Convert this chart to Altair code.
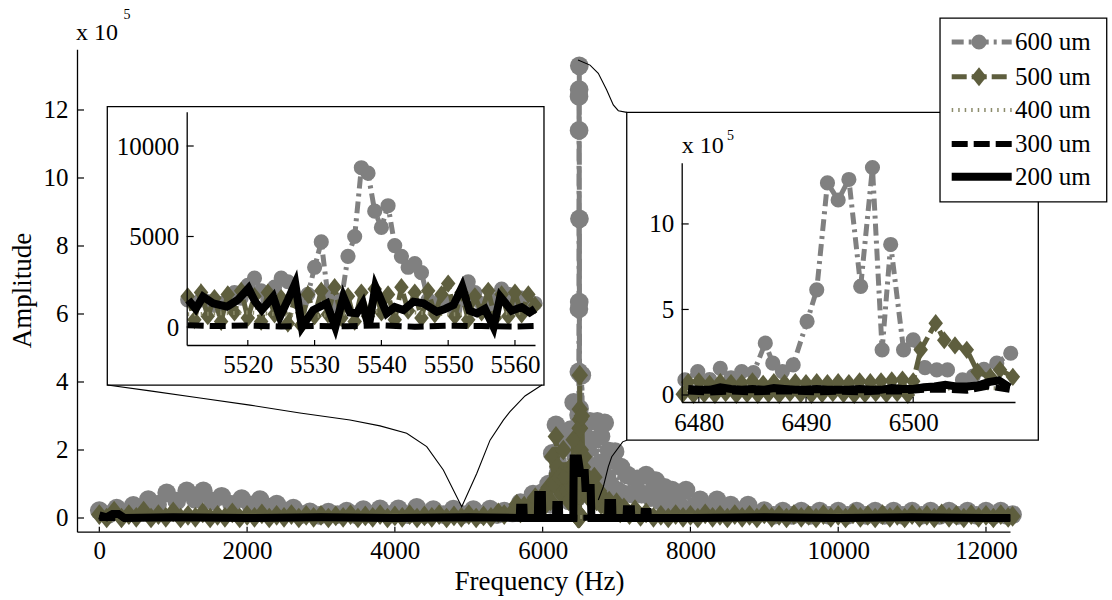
import altair as alt
import pandas as pd

# ---------------------------------------------------------------- data
SERIES = ["600 um", "500 um", "400 um", "300 um", "200 um"]

MAIN_F_600 = [0, 235, 460, 663, 912, 1183, 1408, 1656, 1927, 2175, 2401, 2626, 2850, 3100, 3348,
              3573, 3799, 4047, 4296, 4520, 4791, 5062, 5288, 5480, 5700, 5870, 5990, 6080, 6130,
              6180, 6230, 6280, 6330, 6380, 6420, 6450, 6530, 6560, 6600, 6640, 6690, 6740, 6790,
              6840, 6900, 6980, 7060, 7150, 7280, 7400, 7530, 7650, 7752, 7940, 8130, 8360, 8545,
              8780, 9000, 9250, 9500, 9750, 10000, 10250, 10500, 10750, 11000, 11250, 11500,
              11750, 12000, 12200, 12360]
MAIN_A_600 = [0.22, 0.29, 0.37, 0.54, 0.74, 0.80, 0.80, 0.64, 0.57, 0.54, 0.41, 0.29, 0.18, 0.17, 0.20,
              0.25, 0.27, 0.27, 0.31, 0.25, 0.26, 0.25, 0.26, 0.20, 0.45, 0.70, 0.74, 1.0, 1.9,
              2.74, 1.5, 2.3, 1.2, 2.6, 3.4, 1.8, 4.2, 2.4, 2.0, 2.84, 2.3, 2.84, 2.4,
              2.8, 1.97, 1.95, 1.5, 1.26, 1.15, 1.26, 1.1, 0.9, 0.82, 0.82, 0.53, 0.53, 0.38,
              0.38, 0.22, 0.2, 0.2, 0.2, 0.2, 0.2, 0.2, 0.2, 0.2, 0.2, 0.2,
              0.2, 0.2, 0.2, 0.1]
MAIN_F_600_LO = [118, 348, 562, 788, 1048, 1296, 1532, 1792, 2051, 2288, 2514, 2738, 2975, 3224,
                 3460, 3686, 3923, 4171, 4408, 4655, 4926, 5175, 5384, 5590, 5785, 5930, 6035,
                 6105, 6155, 6205, 6255, 6305, 6355, 6400, 6435, 6465, 6515, 6545, 6580, 6620,
                 6665, 6715, 6765, 6815, 6870, 6940, 7020, 7105, 7215, 7340, 7465, 7590, 7700,
                 7846, 8035, 8245, 8452, 8662, 8890, 9125, 9375, 9625, 9875, 10125, 10375, 10625,
                 10875, 11125, 11375, 11625, 11875, 12100, 12280]
MAIN_A_600_LO = [0.1, 0.15, 0.25, 0.4, 0.5, 0.55, 0.5, 0.4, 0.38, 0.32, 0.2, 0.1, 0.08, 0.1,
                 0.1, 0.1, 0.1, 0.1, 0.1, 0.1, 0.1, 0.1, 0.1, 0.15, 0.3, 0.4, 0.5,
                 0.4, 0.9, 1.3, 0.6, 0.9, 0.5, 1.0, 0.8, 0.6, 1.0, 1.2, 0.8, 1.0,
                 1.2, 1.0, 1.3, 1.0, 1.2, 0.9, 0.8, 0.7, 0.7, 0.7, 0.6, 0.5, 0.45,
                 0.4, 0.3, 0.25, 0.18, 0.15, 0.1, 0.08, 0.08, 0.08, 0.08, 0.08, 0.08, 0.08,
                 0.08, 0.08, 0.08, 0.08, 0.08, 0.08, 0.08]

MAIN_F_500 = [0, 100, 200, 300, 400, 500, 600, 700, 800, 900, 1000, 1100, 1200, 1300, 1400,
              1500, 1600, 1700, 1800, 1900, 2000, 2100, 2200, 2300, 2400, 2500, 2600, 2700,
              2800, 2900, 3000, 3100, 3200, 3300, 3400, 3500, 3600, 3700, 3800, 3900, 4000,
              4100, 4200, 4300, 4400, 4500, 4600, 4700, 4800, 4900, 5000, 5100, 5200, 5300,
              5400, 5480, 5600, 5650, 5700, 5750, 5800, 5850, 5900, 5950, 6000, 6040, 6080,
              6105, 6130, 6155, 6180, 6205, 6230, 6255, 6280, 6305, 6330, 6355, 6380, 6400,
              6420, 6435, 6450, 6465, 6515, 6530, 6545, 6560, 6580, 6600, 6625, 6650, 6675,
              6700, 6730, 6760, 6790, 6820, 6860, 6900, 6950, 7000, 7050, 7100, 7175, 7250,
              7325, 7400, 7500, 7600, 7700, 7800, 7900, 8000, 8100, 8200, 8300, 8400, 8500,
              8600, 8700, 8800, 8900, 9000, 9100, 9200, 9300, 9400, 9500, 9600, 9700, 9800,
              9900, 10000, 10100, 10200, 10300, 10400, 10500, 10600, 10700, 10800, 10900,
              11000, 11100, 11200, 11300, 11400, 11500, 11600, 11700, 11800, 11900, 12000,
              12100, 12200, 12300, 12360]
MAIN_A_500 = [0.1, 0.0, 0.2, 0.0, 0.1, 0.02, 0.2, 0.0, 0.1, 0.02, 0.18, 0.0, 0.08, 0.02, 0.15,
              0.0, 0.08, 0.02, 0.15, 0.0, 0.08, 0.02, 0.12, 0.0, 0.08, 0.02, 0.1, 0.0,
              0.08, 0.02, 0.08, 0.0, 0.06, 0.02, 0.1, 0.0, 0.06, 0.02, 0.1, 0.0, 0.06,
              0.02, 0.1, 0.0, 0.06, 0.02, 0.1, 0.0, 0.06, 0.02, 0.1, 0.0, 0.06, 0.02,
              0.15, 0.1, 0.2, 0.4, 0.15, 0.35, 0.3, 0.2, 0.6, 0.3, 0.65, 0.4, 0.9,
              0.5, 1.8, 1.0, 2.4, 1.5, 1.2, 0.7, 2.0, 1.2, 0.8, 0.5, 1.5, 0.9,
              2.3, 1.5, 1.0, 0.5, 2.0, 3.0, 1.5, 1.8, 0.9, 1.2, 0.6, 1.1, 0.6,
              1.2, 0.5, 0.8, 0.4, 0.6, 0.3, 0.5, 0.2, 0.45, 0.15, 0.3, 0.1, 0.25,
              0.05, 0.15, 0.02, 0.08, 0.0, 0.1, 0.02, 0.08, 0.0, 0.12, 0.02, 0.08, 0.0,
              0.1, 0.02, 0.08, 0.0, 0.12, 0.02, 0.08, 0.0, 0.1, 0.02, 0.08, 0.0, 0.1,
              0.02, 0.08, 0.0, 0.12, 0.02, 0.08, 0.0, 0.1, 0.02, 0.08, 0.0,
              0.1, 0.02, 0.08, 0.0, 0.12, 0.02, 0.08, 0.0, 0.1, 0.02, 0.08,
              0.0, 0.1, 0.02, 0.05]

MAIN_F_400 = [0, 3000, 6000, 9000, 12330]
MAIN_A_400 = [0.02, 0.02, 0.03, 0.02, 0.02]

MAIN_F_300 = [0, 2000, 4000, 6000, 8000, 10000, 12330]
MAIN_A_300 = [0.0, 0.01, 0.0, 0.01, 0.0, 0.01, 0.0]

MAIN_F_200 = [0, 100, 180, 260, 340, 1000, 2000, 3000, 4000, 5000, 5690, 5695, 5740, 5745,
              5935, 5940, 5990, 5995, 6180, 6185, 6220, 6225, 6415, 6420, 6480, 6510, 6570, 6580,
              6650, 6660, 6885, 6890, 6940, 6945, 7135, 7140, 7195, 7200, 7375, 7380, 7420, 7425,
              8000, 9000, 10000, 11000, 12000, 12330]
MAIN_A_200 = [0.08, 0.02, 0.12, 0.12, 0.0, 0.02, 0.0, 0.02, 0.0, 0.02, 0.0, 0.3, 0.3, 0.0,
              0.0, 0.68, 0.68, 0.0, 0.0, 0.38, 0.38, 0.0, 0.0, 1.75, 1.75, 1.32, 1.32, 0.88,
              0.88, 0.0, 0.0, 0.44, 0.44, 0.0, 0.0, 0.26, 0.26, 0.0, 0.0, 0.18, 0.18, 0.0,
              0.0, 0.02, 0.0, 0.02, 0.0, 0.0]

# zoom 1: 5511-5563 Hz, raw amplitude
Z1_F_600 = [5511, 5512, 5513, 5514, 5515, 5516, 5517, 5518, 5519, 5520, 5521, 5522, 5523, 5524,
            5525, 5526, 5527, 5528, 5529, 5530, 5531, 5532, 5533, 5534, 5535, 5536, 5537, 5538,
            5539, 5540, 5541, 5542, 5543, 5544, 5545, 5546, 5547, 5548, 5549, 5550, 5551, 5552,
            5553, 5554, 5555, 5556, 5557, 5558, 5559, 5560, 5561, 5562, 5563]
Z1_A_600 = [1500, 1300, 1500, 1400, 1200, 1300, 1500, 1900, 1600, 2300, 2700, 2000, 1500, 2200,
            2700, 2500, 1600, 1300, 1800, 3300, 4700, 1700, 1200, 1500, 3900, 5000, 8800, 8500,
            6400, 5500, 6700, 4500, 3900, 3300, 3500, 3000, 1500, 1200, 1600, 1300, 1000, 1500,
            2500, 1900, 1300, 1100, 1500, 2100, 1800, 1400, 1600, 1500, 1300]
Z1_F_500 = Z1_F_600
Z1_A_500 = [1700, 400, 1900, 600, 1600, 300, 1800, 800, 2000, 500, 1700, 300, 1900, 700,
            1600, 200, 1500, 100, 1800, 600, 2000, 700, 2200, 500, 1700, 300, 1900, 600,
            2100, 800, 1800, 400, 2200, 900, 1900, 500, 2000, 700, 1800, 2400, 600, 1900,
            400, 1700, 800, 2000, 500, 1800, 600, 1900, 700, 1800, 1200]
Z1_F_400 = [5511, 5520, 5530, 5540, 5550, 5563]
Z1_A_400 = [700, 800, 600, 900, 700, 800]
Z1_F_300 = [5511, 5515, 5520, 5525, 5530, 5535, 5540, 5545, 5550, 5555, 5560, 5563]
Z1_A_300 = [100, 50, 80, 30, 60, 40, 90, 20, 70, 50, 30, 60]
Z1_F_200 = [5511.1, 5512.2, 5513.3, 5514.8, 5516.9, 5518.5, 5520.1, 5521.1, 5522.1, 5523.8, 5524.8,
            5526.0, 5527.1, 5528.1, 5529.8, 5531.8, 5533.1, 5534.3, 5535.3, 5536.3, 5537.2, 5538.1,
            5539.1, 5540.8, 5542.0, 5543.3, 5544.8, 5546.3, 5548.3, 5549.5, 5550.8, 5552.1, 5553.2,
            5554.3, 5555.5, 5556.8, 5557.8, 5559.5, 5561.0, 5562.2, 5563.0]
Z1_A_200 = [1490, 1000, 1674, 1309, 1122, 1500, 2138, 1400, 939, 1674, 569,
            1500, 2414, 0, 939, 1309, 0, 1674, 800, 757, 1300, 0,
            2227, 757, 1100, 939, 1400, 1309, 845, 1000, 1216, 2227, 900,
            757, 1000, 0, 1674, 900, 1100, 800, 1000]

# zoom 2: 6478-6510 Hz, amplitude in units of 1e5
Z2_F_600 = [6478.7, 6479.9, 6481.0, 6482.0, 6483.0, 6484.0, 6485.1, 6486.2, 6486.9, 6487.8,
            6488.8, 6490.1, 6491.0, 6492.0, 6493.0, 6494.0, 6495.1, 6496.2, 6497.1, 6497.9,
            6499.1, 6500.0, 6501.1, 6502.2, 6503.2, 6504.6, 6505.6, 6506.6, 6507.8, 6509.1]
Z2_A_600 = [0.88, 1.37, 0.9, 1.56, 1.0, 1.37, 1.31, 3.03, 1.86, 1.37,
            1.76, 4.30, 6.15, 12.4, 11.4, 12.6, 6.35, 13.3, 2.64, 8.8,
            2.64, 3.22, 1.6, 1.47, 1.47, 0.88, 1.1, 1.5, 1.86, 2.44]
Z2_F_500 = [6478.5, 6479.0, 6479.5, 6480.0, 6480.5, 6481.0, 6481.5, 6482.0, 6482.5, 6483.0,
            6483.5, 6484.0, 6484.5, 6485.0, 6485.5, 6486.0, 6486.5, 6487.0, 6487.5, 6488.0,
            6488.5, 6489.0, 6489.5, 6490.0, 6490.5, 6491.0, 6491.5, 6492.0, 6492.5, 6493.0,
            6493.5, 6494.0, 6494.5, 6495.0, 6495.5, 6496.0, 6496.5, 6497.0, 6497.5, 6498.0,
            6498.5, 6499.0, 6499.5, 6500.0, 6500.7, 6502.1, 6502.9, 6503.9, 6505.0, 6506.0,
            6507.2, 6508.1, 6509.3]
Z2_A_500 = [0.05, 0.75, 0.0, 0.8, 0.05, 0.65, 0.0, 0.75, 0.1, 0.7,
            0.0, 0.7, 0.05, 0.8, 0.0, 0.65, 0.05, 0.75, 0.0, 0.7,
            0.1, 0.75, 0.05, 0.7, 0.0, 0.75, 0.05, 0.7, 0.1, 0.75,
            0.05, 0.7, 0.0, 0.8, 0.05, 0.75, 0.1, 0.8, 0.05, 0.85,
            0.1, 0.9, 0.0, 0.8, 2.64, 4.2, 3.2, 2.9, 2.64, 1.37,
            1.06, 1.47, 1.06]
Z2_F_400 = [6479, 6489, 6499, 6509]
Z2_A_400 = [0.3, 0.3, 0.35, 0.4]
Z2_F_300 = [6479, 6481, 6483, 6485, 6487, 6489, 6491, 6493, 6495, 6497, 6499, 6501, 6503, 6505,
            6507, 6509]
Z2_A_300 = [0.2, 0.15, 0.2, 0.15, 0.2, 0.2, 0.15, 0.2, 0.15, 0.2, 0.2, 0.3, 0.3, 0.25, 0.5, 0.3]
Z2_F_200 = [6479, 6480, 6481, 6482, 6483, 6484, 6485, 6486, 6487, 6488, 6489, 6490, 6491, 6492,
            6493, 6494, 6495, 6496, 6497, 6498, 6499, 6500, 6501, 6502, 6503, 6504, 6505, 6506,
            6507, 6508, 6509]
Z2_A_200 = [0.35, 0.3, 0.3, 0.45, 0.35, 0.3, 0.35, 0.3, 0.4, 0.35, 0.3, 0.3, 0.35, 0.3,
            0.3, 0.3, 0.35, 0.3, 0.3, 0.4, 0.35, 0.35, 0.45, 0.5, 0.6, 0.5, 0.5, 0.55,
            0.75, 0.85, 0.45]

# inset frames and legend frame, in main-plot data units (Hz, 1e5)
BOX_F1 = [108, 7138, 11378]
BOX_F2 = [6018, 12708, 13634]
BOX_A1 = [3.91, 2.29, 9.30]
BOX_A2 = [12.10, 11.93, 14.70]

# connector curves, in main-plot data units
CONN_A_F = [108, 686, 1363, 2040, 2716, 3393, 3799, 4160, 4431, 4656, 4905, 5108, 5288, 5468,
            5558, 5761, 5990]
CONN_A_A = [3.91, 3.74, 3.53, 3.32, 3.09, 2.88, 2.71, 2.49, 2.10, 1.41, 0.33, 1.31, 2.29, 2.88,
            3.13, 3.59, 3.91]
CONN_B_F = [6479, 6641, 6753, 6867, 6956, 7024, 7138]
CONN_B_A = [13.47, 13.32, 13.08, 12.59, 12.15, 11.98, 11.93]
CONN_C_F = [7138, 7083, 6935, 6889, 6821, 6753]
CONN_C_A = [2.29, 2.24, 1.80, 1.51, 0.92, 0.53]

MAIN_X_TICKS = [0, 2000, 4000, 6000, 8000, 10000, 12000]
MAIN_Y_TICKS = [0, 2, 4, 6, 8, 10, 12]
Z1_X_TICKS = [5520, 5530, 5540, 5550, 5560]
Z1_Y_TICKS = [0, 5000, 10000]
Z2_X_TICKS = [6480, 6490, 6500]
Z2_Y_TICKS = [0, 5, 10]

# ---------------------------------------------------------------- styles
COLORS = {"600 um": "#808080", "500 um": "#5e5e3e", "400 um": "#8c8c6c",
          "300 um": "#000000", "200 um": "#000000"}
WIDTHS = {"600 um": 5, "500 um": 5, "400 um": 4, "300 um": 6, "200 um": 8}
DASHES = {"600 um": [12, 5, 3, 5], "500 um": [15, 5], "400 um": [1.5, 5], "300 um": [16, 6]}
DIAMOND = "M0,-1L0.8,0L0,1L-0.8,0Z"
SHAPES = {"600 um": "circle", "500 um": DIAMOND}
MSIZE_MAIN = {"600 um": 350, "500 um": 430}
MSIZE_INSET = {"600 um": 230, "500 um": 330}
FONT = "Liberation Serif"

W, H = 933, 482.4


def long_df(d):
    rows = []
    for s, (F, A) in d.items():
        for f, a in zip(F, A):
            rows.append({"s": s, "f": f, "a": a})
    return pd.DataFrame(rows)


main_df = long_df({
    "600 um": (MAIN_F_600 + MAIN_F_600_LO + Z2_F_600, MAIN_A_600 + MAIN_A_600_LO + Z2_A_600),
    "500 um": (MAIN_F_500 + Z2_F_500, MAIN_A_500 + Z2_A_500),
    "400 um": (MAIN_F_400, MAIN_A_400),
    "300 um": (MAIN_F_300, MAIN_A_300),
    "200 um": (MAIN_F_200, MAIN_A_200),
}).sort_values(["s", "f"])
z1_df = long_df({
    "600 um": (Z1_F_600, Z1_A_600), "500 um": (Z1_F_500, Z1_A_500),
    "400 um": (Z1_F_400, Z1_A_400), "300 um": (Z1_F_300, Z1_A_300),
    "200 um": (Z1_F_200, Z1_A_200)})
z2_df = long_df({
    "600 um": (Z2_F_600, Z2_A_600), "500 um": (Z2_F_500, Z2_A_500),
    "400 um": (Z2_F_400, Z2_A_400), "300 um": (Z2_F_300, Z2_A_300),
    "200 um": (Z2_F_200, Z2_A_200)})

box_df = pd.DataFrame({"f1": BOX_F1, "f2": BOX_F2, "a1": BOX_A1, "a2": BOX_A2})
conn_rows = []
for cid, (F, A) in {"A": (CONN_A_F, CONN_A_A), "B": (CONN_B_F, CONN_B_A),
                    "C": (CONN_C_F, CONN_C_A)}.items():
    for i, (f, a) in enumerate(zip(F, A)):
        conn_rows.append({"cid": cid, "o": i, "f": f, "a": a})
conn_df = pd.DataFrame(conn_rows)

# ---------------------------------------------------------------- scales / axes
xs_main = alt.Scale(domain=[-302, 12325], range=[0, W], nice=False, zero=False)
ys_main = alt.Scale(domain=[-0.403, 13.785], range=[H, 0], nice=False, zero=False)
xs_1 = alt.Scale(domain=[5510.85, 5563.0], range=[109.7, 458.0], nice=False, zero=False)
ys_1 = alt.Scale(domain=[-994, 11895], range=[295.7, 62.4], nice=False, zero=False)
xs_2 = alt.Scale(domain=[6478.4, 6509.5], range=[604.7, 938.0], nice=False, zero=False)
ys_2 = alt.Scale(domain=[-0.41, 13.58], range=[352.7, 113.4], nice=False, zero=False)

ax_main_x = alt.Axis(values=MAIN_X_TICKS, format="d", title="Frequency (Hz)", orient="bottom",
                     labelPadding=7, titleX=462, titleY=57.8, titleBaseline="alphabetic",
                     titleAlign="center", titleFontSize=27)
ax_main_y = alt.Axis(values=MAIN_Y_TICKS, format="d", title="Amplitude", orient="left",
                     labelPadding=9, titleX=-55, titleY=240.7, titleAngle=270,
                     titleBaseline="middle", titleAlign="center", titleFontSize=27)
ax1_x = alt.Axis(values=Z1_X_TICKS, format="d", title=None, orient="bottom", zindex=1,
                 labelPadding=7, offset=-(H - 295.7))
ax1_y = alt.Axis(values=Z1_Y_TICKS, format="d", title=None, orient="left", zindex=1,
                 labelPadding=8, offset=-109.7)
ax2_x = alt.Axis(values=Z2_X_TICKS, format="d", title=None, orient="bottom", zindex=1,
                 labelPadding=8, offset=-(H - 352.7))
ax2_y = alt.Axis(values=Z2_Y_TICKS, format="d", title=None, orient="left", zindex=1,
                 labelPadding=8, offset=-604.7)


def series_layers(df, xs, ys, xax, yax, msizes):
    layers = []
    for s in SERIES:
        base = alt.Chart(df).transform_filter(alt.datum.s == s)
        line_kw = dict(color=COLORS[s], strokeWidth=WIDTHS[s])
        if s in DASHES:
            line_kw["strokeDash"] = DASHES[s]
        enc = dict(x=alt.X("f:Q", scale=xs, axis=xax), y=alt.Y("a:Q", scale=ys, axis=yax))
        layers.append(base.mark_line(**line_kw).encode(**enc))
        if s in SHAPES:
            layers.append(base.mark_point(shape=SHAPES[s], filled=True, size=msizes[s],
                                          color=COLORS[s], opacity=1, strokeWidth=0).encode(**enc))
    return layers


def tick_layers(xvals, yvals, xs, ys, xax, yax, x0, ybot):
    tx = alt.Chart(pd.DataFrame({"v": xvals})).mark_rule(color="black", strokeWidth=1.2).encode(
        x=alt.X("v:Q", scale=xs, axis=xax), y=alt.value(ybot - 5), y2=alt.value(ybot))
    ty = alt.Chart(pd.DataFrame({"v": yvals})).mark_rule(color="black", strokeWidth=1.2).encode(
        y=alt.Y("v:Q", scale=ys, axis=yax), x=alt.value(x0), x2=alt.value(x0 + 7))
    return [tx, ty]


# ---------------------------------------------------------------- main group
main_layers = series_layers(main_df, xs_main, ys_main, ax_main_x, ax_main_y, MSIZE_MAIN)
main_layers += tick_layers(MAIN_X_TICKS, MAIN_Y_TICKS, xs_main, ys_main, ax_main_x, ax_main_y, 0, H)

boxes = alt.Chart(box_df).mark_rect(fill="white", stroke="black", strokeWidth=1.3).encode(
    x=alt.X("f1:Q", scale=xs_main, axis=ax_main_x), x2="f2:Q",
    y=alt.Y("a1:Q", scale=ys_main, axis=ax_main_y), y2="a2:Q")
inset_boxes = boxes.transform_filter(alt.datum.a2 < 13)
legend_box = boxes.transform_filter(alt.datum.a2 > 13)
connectors = alt.Chart(conn_df).mark_line(color="black", strokeWidth=1.1).encode(
    x=alt.X("f:Q", scale=xs_main, axis=ax_main_x), y=alt.Y("a:Q", scale=ys_main, axis=ax_main_y),
    detail="cid:N", order="o:Q")

main_layers += [inset_boxes, connectors]

# ---------------------------------------------------------------- legend
legend_df = pd.DataFrame({"s": SERIES})
LEG_Y = [-7.3, 27.4, 60.7, 94.7, 127.4]
legend_layers = [legend_box]
for s, ly in zip(SERIES, LEG_Y):
    b = alt.Chart(legend_df).transform_filter(alt.datum.s == s)
    kw = dict(color=COLORS[s], strokeWidth=WIDTHS[s])
    if s in DASHES:
        kw["strokeDash"] = DASHES[s]
    legend_layers.append(b.mark_rule(**kw).encode(
        x=alt.value(874.7), x2=alt.value(934.7), y=alt.value(ly)))
    if s in SHAPES:
        legend_layers.append(b.mark_point(shape=SHAPES[s], filled=True,
                                          size=230 if s == "600 um" else 360,
                                          color=COLORS[s], opacity=1, strokeWidth=0).encode(
            x=alt.value(902), y=alt.value(ly)))
    legend_layers.append(b.mark_text(align="left", baseline="middle", font=FONT, fontSize=25,
                                     color="black").encode(
        x=alt.value(938), y=alt.value(ly), text="s:N"))

# exponent labels
txt_df = pd.DataFrame({"t": ["x 10", "5"]})


def label(t, x, y, size):
    return alt.Chart(txt_df).transform_filter(alt.datum.t == t).mark_text(
        align="left", baseline="alphabetic", font=FONT, fontSize=size, color="black").encode(
        x=alt.value(x), y=alt.value(y), text="t:N")


text_layers = [label("x 10", -1, -9.3, 24), label("5", 46.5, -30.8, 14),
               label("x 10", 604.7, 104, 24), label("5", 650, 90.7, 14)]

main_group = alt.layer(*main_layers, *legend_layers, *text_layers)

# ---------------------------------------------------------------- insets
inset1 = alt.layer(*series_layers(z1_df, xs_1, ys_1, ax1_x, ax1_y, MSIZE_INSET),
                   *tick_layers(Z1_X_TICKS, Z1_Y_TICKS, xs_1, ys_1, ax1_x, ax1_y, 109.7, 295.7))
inset2 = alt.layer(*series_layers(z2_df, xs_2, ys_2, ax2_x, ax2_y, MSIZE_INSET),
                   *tick_layers(Z2_X_TICKS, Z2_Y_TICKS, xs_2, ys_2, ax2_x, ax2_y, 604.7, 352.7))

chart = alt.layer(main_group, inset1, inset2).resolve_scale(
    x="independent", y="independent").properties(
    width=W, height=H,
    background="white",
    autosize=alt.AutoSizeParams(type="none"),
    padding={"left": 77, "top": 49.3, "right": 102, "bottom": 68.3},
).configure_view(stroke="transparent", strokeWidth=0).configure_axis(
    grid=False, ticks=False, domainColor="black", domainWidth=1.3,
    labelColor="black", labelFont=FONT, labelFontSize=25, labelFlush=False,
    labelOverlap=False, titleFont=FONT, titleColor="black", titleFontWeight="normal",
)

chart.save("out.html", embed_options={"renderer": "svg", "actions": False})
